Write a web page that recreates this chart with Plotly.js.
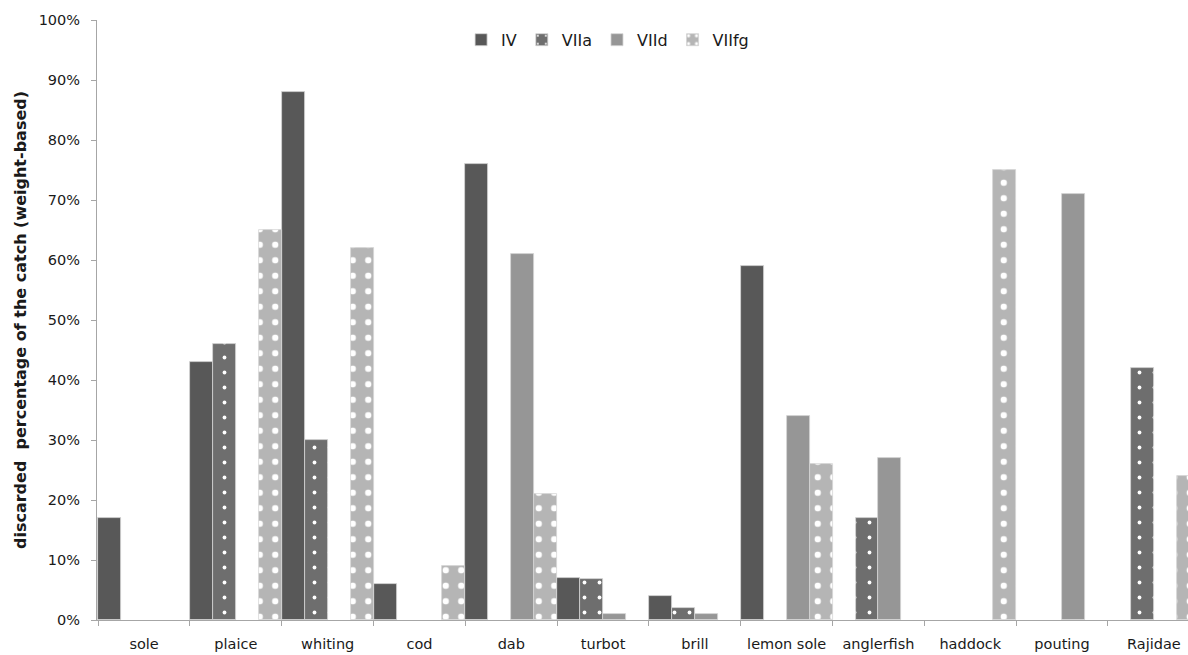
<!DOCTYPE html>
<html>
<head>
<meta charset="utf-8">
<script src="https://cdn.plot.ly/plotly-3.0.1.min.js"></script>
<style>html,body{margin:0;padding:0;background:#fff;}#chart{width:1188px;height:655px;}</style>
</head>
<body>
<div id="chart"></div>
<script>
const categories = ["sole","plaice","whiting","cod","dab","turbot","brill","lemon sole","anglerfish","haddock","pouting","Rajidae"];
const seriesNames = ["IV","VIIa","VIId","VIIfg"];
const valuesIV    = [17, 43, 88, 6, 76, 7, 4, 59, null, null, null, null];
const valuesVIIa  = [null, 46, 30, null, null, 6.9, 2, null, 17, null, null, 42];
const valuesVIId  = [null, null, null, null, 61, 1, 1, 34, 27, null, 71, null];
const valuesVIIfg = [null, 65, 62, 9, 21, null, null, 26, null, 75, null, 24];
const yTicks = [0,10,20,30,40,50,60,70,80,90,100];

const font = "DejaVu Sans, Verdana, sans-serif";
const seriesStyle = [
  {color: "#585858", pattern: null},
  {color: "#6e6e6e", pattern: {shape: ".", fgcolor: "#ffffff", bgcolor: "#6e6e6e", size: 15, solidity: 0.05, fillmode: "replace"}},
  {color: "#969696", pattern: null},
  {color: "#b5b5b5", pattern: {shape: ".", fgcolor: "#ffffff", bgcolor: "#b5b5b5", size: 15.5, solidity: 0.13, fillmode: "replace"}}
];
const seriesValues = [valuesIV, valuesVIIa, valuesVIId, valuesVIIfg];
const traces = seriesValues.map((vals, i) => {
  const s = seriesStyle[i];
  const m = {color: s.color, line: {color: "#d4d4d4", width: 0.8}};
  if (s.pattern) m.pattern = s.pattern;
  return {type: "bar", name: seriesNames[i], x: categories, y: vals, marker: m, hoverinfo: "x+y+name"};
});

const layout = {
  width: 1188, height: 655,
  margin: {l: 97, r: 0, t: 20, b: 35},
  paper_bgcolor: "#ffffff", plot_bgcolor: "#ffffff",
  barmode: "group", bargap: 0.0, bargroupgap: 0.0,
  font: {family: font, color: "#1a1a1a", size: 14},
  showlegend: true,
  legend: {orientation: "h", x: 0.468, xanchor: "center", y: 0.967, yanchor: "middle",
           font: {family: font, size: 16, color: "#1a1a1a"}, itemwidth: 30, traceorder: "normal",
           bgcolor: "rgba(0,0,0,0)"},
  xaxis: {
    type: "category", range: [-0.513, 11.372], autorange: false,
    showline: true, linecolor: "#a6a6a6", linewidth: 1,
    ticks: "outside", tickson: "boundaries", ticklen: 5, tickcolor: "#a6a6a6",
    showgrid: false, zeroline: false, tickangle: 0, automargin: false,
    ticklabelstandoff: 11,
    tickfont: {family: font, size: 14.5, color: "#1a1a1a"}
  },
  yaxis: {
    range: [0, 100], autorange: false,
    tickvals: yTicks, ticktext: yTicks.map(v => v + "%"),
    showline: true, linecolor: "#a6a6a6", linewidth: 1,
    ticks: "outside", ticklen: 5, tickcolor: "#a6a6a6",
    showgrid: false, zeroline: false, automargin: false,
    ticklabelstandoff: 8,
    tickfont: {family: font, size: 14.5, color: "#1a1a1a"},
    title: {text: "<b>discarded  percentage of the catch (weight-based)</b>", font: {family: font, size: 16, color: "#1a1a1a"}, standoff: 8}
  }
};

Plotly.newPlot("chart", traces, layout, {displayModeBar: false, responsive: false});
</script>
</body>
</html>
